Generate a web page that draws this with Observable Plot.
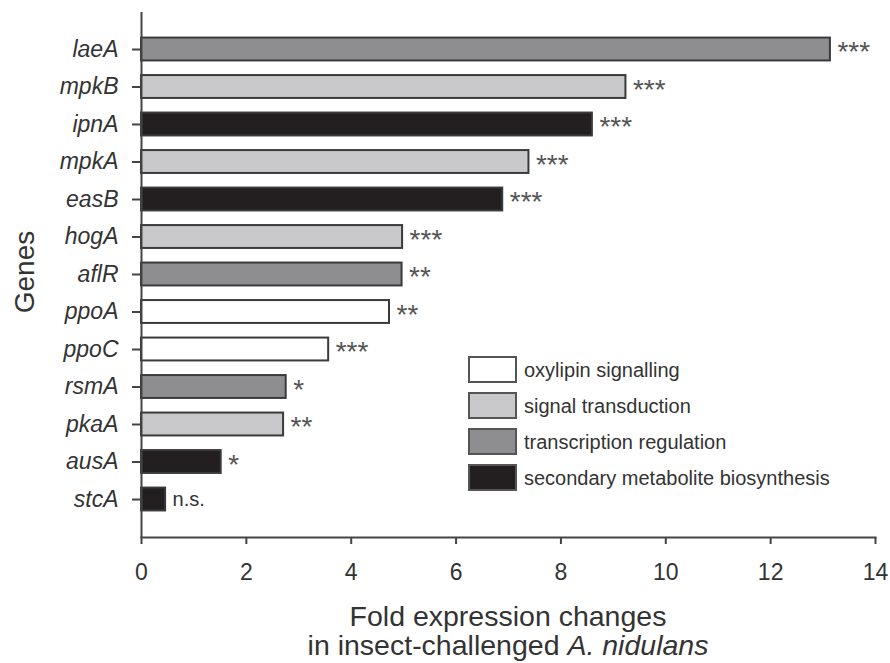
<!DOCTYPE html>
<html><head><meta charset="utf-8">
<script src="https://cdn.jsdelivr.net/npm/d3@7"></script>
<script src="https://cdn.jsdelivr.net/npm/@observablehq/plot@0.6"></script>
<style>
body{margin:0;background:#fff;}
#chart svg{display:block;font-family:"Liberation Sans",Arial,sans-serif;}
#chart g[aria-label="y-axis tick label"] text{font-style:italic;}
</style></head><body><div id="chart"></div>
<script>
const genes = ["laeA","mpkB","ipnA","mpkA","easB","hogA","aflR","ppoA","ppoC","rsmA","pkaA","ausA","stcA"];
const foldChange = [13.14, 9.24, 8.60, 7.39, 6.89, 4.98, 4.97, 4.73, 3.57, 2.76, 2.71, 1.52, 0.46];
const geneGroup = ["transcription regulation","signal transduction","secondary metabolite biosynthesis","signal transduction","secondary metabolite biosynthesis","signal transduction","transcription regulation","oxylipin signalling","oxylipin signalling","transcription regulation","signal transduction","secondary metabolite biosynthesis","secondary metabolite biosynthesis"];
const significance = ["***","***","***","***","***","***","**","**","***","*","**","*","n.s."];
const groups = ["oxylipin signalling","signal transduction","transcription regulation","secondary metabolite biosynthesis"];
const groupColors = ["#ffffff","#c9c9cb","#8e8e91","#231f20"];
const xTicks = [0,2,4,6,8,10,12,14];
const yTitle = "Genes";
const xTitle1 = "Fold expression changes";
const xTitle2a = "in insect-challenged ";
const xTitle2b = "A. nidulans";

const rows = genes.map((g,i)=>({gene:g, value:foldChange[i], group:geneGroup[i], sig:significance[i]}));

const W=890,H=663, mL=141, mR=15, mT=12, mB=126;
const ink = "#333";
const plot = Plot.plot({
  width: W, height: H, marginLeft: mL, marginRight: mR, marginTop: mT, marginBottom: mB,
  style: {fontFamily: "Liberation Sans, Arial, sans-serif", color: ink, background:"#fff"},
  x: {domain:[0,14], ticks: xTicks},
  y: {domain: genes, range:[30.25, 517.75], paddingInner: 0.39, paddingOuter: 0.195, round:false},
  color: {domain: groups, range: groupColors},
  marks: [
    Plot.barX(rows, {x:"value", y:"gene", fill:"group", stroke:"#3a3a3a", strokeWidth:2}),
    Plot.text(rows.filter(d=>d.sig!=="n.s."), {x:"value", y:"gene", text:"sig", textAnchor:"start", dx:7, dy:3, fontSize:28, fill:"#555"}),
    Plot.text(rows.filter(d=>d.sig==="n.s."), {x:"value", y:"gene", text:"sig", textAnchor:"start", dx:7, fontSize:20, fill:ink}),
    Plot.axisX({ticks:xTicks, tickSize:7, tickPadding:19, fontSize:23, label:null, stroke:"#444", strokeWidth:2}),
    Plot.axisY({tickSize:9, tickPadding:14, fontSize:23, label:null, fontStyle:"italic", stroke:"#444", strokeWidth:2}),
    Plot.ruleX([0], {stroke:"#444", strokeWidth:2}),
    Plot.frame({anchor:"bottom", stroke:"#444", strokeWidth:2})
  ]
});
document.getElementById("chart").appendChild(plot);

const svg = d3.select(plot);
// y title
svg.append("text").attr("transform","translate(24,272) rotate(-90)")
  .attr("text-anchor","middle").attr("dy","0.35em").attr("font-size",28).attr("fill",ink).text(yTitle);
// x title
const cx = (mL + (W - mR))/2;
svg.append("text").attr("x",cx).attr("y",626).attr("text-anchor","middle").attr("font-size",28.5).attr("fill",ink).text(xTitle1);
const t2 = svg.append("text").attr("x",cx).attr("y",655).attr("text-anchor","middle").attr("font-size",28.5).attr("fill",ink);
t2.append("tspan").text(xTitle2a);
t2.append("tspan").attr("font-style","italic").text(xTitle2b);
// legend
const lg = svg.append("g").attr("transform","translate(469,357)");
groups.forEach((g,i)=>{
  lg.append("rect").attr("x",0).attr("y",i*36).attr("width",47).attr("height",25)
    .attr("fill",groupColors[i]).attr("stroke","#555").attr("stroke-width",2);
  lg.append("text").attr("x",55).attr("y",i*36+12.5).attr("dy","0.35em").attr("text-anchor","start")
    .attr("font-size",20).attr("fill",ink).text(g);
});
</script></body></html>
